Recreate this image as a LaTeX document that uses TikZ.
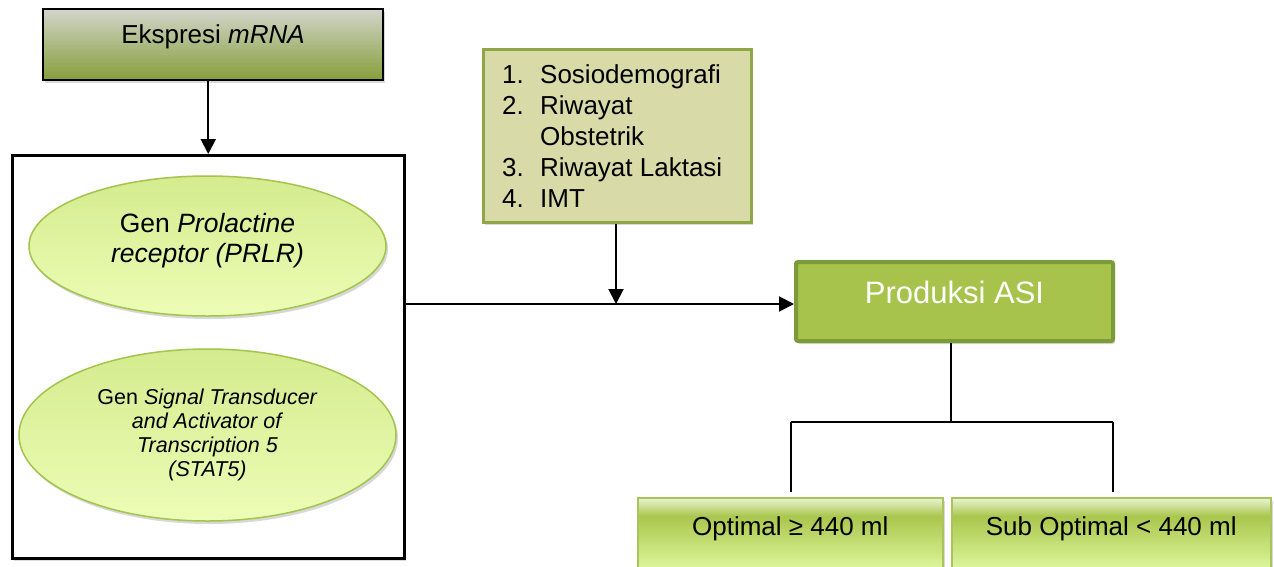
\documentclass[tikz,border=0pt]{standalone}
\usepackage{fontspec}
\setmainfont{Liberation Sans}
\usetikzlibrary{arrows.meta,shapes.geometric,shadows}
\definecolor{exptop}{RGB}{210,213,202}
\definecolor{expbot}{RGB}{134,158,58}
\definecolor{elltop}{RGB}{212,235,142}
\definecolor{ellbot}{RGB}{237,253,182}
\definecolor{ellborder}{RGB}{163,196,77}
\definecolor{listfill}{RGB}{216,219,168}
\definecolor{listborder}{RGB}{142,166,70}
\definecolor{prodfill}{RGB}{167,195,75}
\definecolor{prodborder}{RGB}{123,154,56}
\definecolor{bxtop}{RGB}{233,245,212}
\definecolor{bxmid}{RGB}{169,198,77}
\definecolor{bxlow}{RGB}{220,246,154}
\definecolor{bxborder}{RGB}{168,196,90}
\pgfdeclareverticalshading{outshade}{100bp}{color(0bp)=(bxlow); color(41bp)=(bxlow); color(66bp)=(bxmid); color(75bp)=(bxtop); color(100bp)=(bxtop)}
\newcommand{\myfs}[2]{\fontsize{#1}{#2}\selectfont}
\tikzset{
  shad/.style={drop shadow={shadow xshift=2pt, shadow yshift=-3pt, opacity=0.25, fill=black!60}},
  expbox/.style={rectangle, draw=black, line width=2pt, top color=exptop, bottom color=expbot, inner sep=0pt, shad, font=\myfs{26}{31}},
  genbox/.style={rectangle, draw=black, line width=2.5pt, fill=white, inner sep=0pt, shad},
  genell/.style={ellipse, draw=ellborder, line width=1.5pt, top color=elltop, bottom color=ellbot, inner sep=0pt, align=center, shad},
  listbox/.style={rectangle, draw=listborder, line width=2.5pt, fill=listfill, inner sep=0pt, shad},
  prodbox/.style={rectangle, draw=prodborder, line width=4pt, fill=prodfill, rounded corners=2pt, inner sep=0pt, text=white, font=\myfs{31}{36}, shad},
  outbox/.style={rectangle, draw=bxborder, line width=1.5pt, shading=outshade, inner sep=0pt, font=\myfs{26}{31}, shad},
  arr/.style={line width=2pt, -{Triangle[length=15pt,width=15pt]}},
  branch/.style={line width=1.6pt}
}
\begin{document}
\begin{tikzpicture}[x=1pt,y=-1pt]
\useasboundingbox (0,0) rectangle (1274,566);

% Top box
\node[expbox, anchor=north west, minimum width=340pt, text height=34.3pt, text depth=36.7pt] (expr) at (42,8) {Ekspresi \textit{mRNA}};

% Big gene box
\node[genbox, anchor=north west, minimum width=392pt, minimum height=403pt] (genes) at (11,154) {};

\node[genell, minimum width=357pt, minimum height=140pt, font=\myfs{26.5}{30}] (prlr) at (207.5,246)
  {Gen \textit{Prolactine}\\ \textit{receptor (PRLR)}\rule[-17pt]{0pt}{17pt}};
\node[genell, minimum width=377pt, minimum height=172pt, font=\myfs{21.5}{24}] (stat) at (207.5,435)
  {Gen \textit{Signal Transducer}\\ \textit{and Activator of}\\ \textit{Transcription 5}\\ \textit{(STAT5)}};

% Factors box
\node[listbox, anchor=north west, minimum width=268pt, minimum height=173pt] (factors) at (482,48) {};
\node[anchor=base west, inner sep=0pt, font=\myfs{26}{31}] (flist) at (502,83)
  {\begin{tabular}[t]{@{}l@{}l@{}}
   \makebox[38pt][l]{1.} & Sosiodemografi\\
   \makebox[38pt][l]{2.} & Riwayat\\
   & Obstetrik\\
   \makebox[38pt][l]{3.} & Riwayat Laktasi\\
   \makebox[38pt][l]{4.} & IMT
   \end{tabular}};

% Produksi ASI
\node[prodbox, anchor=north west, minimum width=317pt, text height=41.7pt, text depth=37.3pt] (prod) at (794,260) {Produksi ASI};

% Output boxes
\node[outbox, anchor=north west, minimum width=305pt, text height=38pt, text depth=65pt] (opt) at (637,497) {Optimal ≥ 440 ml};
\node[outbox, anchor=north west, minimum width=319pt, text height=38pt, text depth=65pt] (sub) at (951,497) {Sub Optimal < 440 ml};

% Connectors
\coordinate (jn) at (616,304);
\coordinate (br) at (951,422);
\coordinate (bl) at (791,422);
\coordinate (brr) at (1113,422);

\draw[arr] (genes.north |- expr.south) -- (genes.north);
\draw[arr] (genes.east |- jn) -- (jn -| prod.west);
\draw[arr] (factors.south -| jn) -- (jn);
\draw[branch] (prod.south -| br) -- (br);
\draw[branch] (bl) -- (brr);
\draw[branch, shorten >=5pt] (bl) -- (bl |- opt.north);
\draw[branch, shorten >=5pt] (brr) -- (brr |- sub.north);
\end{tikzpicture}
\end{document}
